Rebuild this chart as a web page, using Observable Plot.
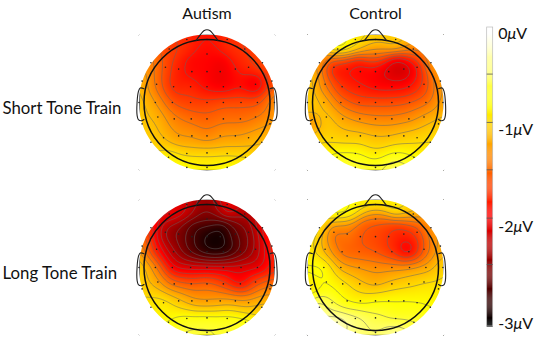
<!DOCTYPE html>
<html>
<head>
<meta charset="utf-8">
<script src="https://cdn.jsdelivr.net/npm/d3@7"></script>
<script src="https://cdn.jsdelivr.net/npm/@observablehq/plot@0.6"></script>
<style>
  html, body { margin: 0; padding: 0; background: #fff; }
  #wrap { position: relative; width: 536px; height: 339px; overflow: hidden; }
  #wrap svg { display: block; }
  #legend { position: absolute; left: 460px; top: 0; }
</style>
</head>
<body>
<div id="wrap"><div id="heads"></div><div id="legend"></div></div>
<script>
const groups = ["Autism", "Control"];
const trains = ["Short Tone Train", "Long Tone Train"];
const colorTicks = [0, -1, -2, -3];
const barTicks = [-0.42, -0.92, -1.41, -1.91, -2.39];

// electrode positions on the scalp (head radius = 1)
const electrodeX = [
  -0.32, 0, 0.32,
  -0.6, 0, 0.6,
  -0.89, -0.66, -0.45, -0.24, 0, 0.21, 0.45, 0.66, 0.88,
  -1.03, -0.8, -0.53, -0.26, 0, 0.26, 0.53, 0.77, 1.03,
  -1.08, -0.82, -0.55, -0.26, 0, 0.26, 0.54, 0.8, 1.07,
  -1.03, -0.78, -0.52, -0.25, 0, 0.26, 0.53, 0.77, 1.0,
  -0.89, -0.69, -0.45, -0.24, 0, 0.21, 0.45, 0.66, 0.87,
  -0.61, -0.32, 0, 0.32, 0.61,
  -0.32, 0, 0.32
];
const electrodeY = [
  1.0, 1.0, 1.0,
  0.85, 0.77, 0.85,
  0.63, 0.56, 0.53, 0.49, 0.49, 0.49, 0.53, 0.56, 0.63,
  0.34, 0.29, 0.25, 0.25, 0.25, 0.25, 0.25, 0.29, 0.34,
  0, 0, 0, 0, 0, 0, 0, 0, 0,
  -0.34, -0.23, -0.26, -0.26, -0.26, -0.26, -0.26, -0.23, -0.34,
  -0.63, -0.56, -0.53, -0.53, -0.53, -0.53, -0.53, -0.56, -0.63,
  -0.87, -0.81, -0.8, -0.81, -0.87,
  -1.03, -1.03, -1.03
];

// amplitude (microvolts) at each electrode
const autismShort = [
  -1.7, -1.8, -1.7,
  -1.6, -1.85, -1.65,
  -1.3, -1.55, -1.75, -1.85, -1.85, -1.95, -1.8, -1.7, -1.55,
  -1.1, -1.4, -1.7, -1.7, -1.85, -1.9, -1.8, -1.95, -1.55,
  -1.0, -1.2, -1.5, -1.6, -1.6, -1.55, -1.55, -1.55, -1.25,
  -1.0, -1.1, -1.3, -1.4, -1.45, -1.4, -1.4, -1.35, -1.2,
  -0.95, -1.05, -1.2, -1.2, -1.3, -1.2, -1.2, -1.15, -1.05,
  -0.8, -0.95, -0.95, -0.95, -0.9,
  -0.75, -0.8, -0.75
];
const controlShort = [
  -0.85, -1.0, -1.0,
  -0.8, -1.35, -1.3,
  -1.2, -1.75, -1.75, -1.85, -1.85, -2.0, -2.05, -1.8, -1.2,
  -1.0, -1.35, -1.65, -1.75, -1.85, -1.85, -1.8, -1.6, -1.2,
  -0.95, -1.1, -1.4, -1.55, -1.55, -1.55, -1.5, -1.4, -1.15,
  -1.2, -1.0, -1.15, -1.25, -1.3, -1.3, -1.25, -1.15, -1.0,
  -0.9, -0.95, -1.0, -1.0, -1.05, -1.05, -1.0, -0.95, -0.9,
  -0.7, -0.75, -0.85, -0.75, -0.75,
  -0.6, -0.65, -0.5
];
const autismLong = [
  -2.1, -2.35, -2.0,
  -1.95, -2.5, -2.2,
  -1.7, -2.3, -2.4, -2.65, -2.85, -2.9, -2.55, -2.4, -1.9,
  -1.3, -1.8, -2.2, -2.55, -2.8, -2.8, -2.5, -2.2, -1.75,
  -0.95, -1.3, -1.9, -2.0, -2.0, -2.0, -2.0, -2.0, -1.7,
  -0.95, -1.15, -1.4, -1.5, -1.45, -1.6, -1.85, -1.55, -1.3,
  -0.85, -0.85, -1.0, -1.15, -1.2, -1.15, -1.15, -1.15, -1.0,
  -0.75, -0.7, -0.7, -0.7, -0.7,
  -0.6, -0.6, -0.65
];
const controlLong = [
  -0.8, -0.85, -0.85,
  -0.75, -1.4, -1.1,
  -0.85, -1.4, -1.3, -1.5, -1.55, -1.65, -1.7, -1.6, -1.2,
  -0.85, -1.1, -1.4, -1.45, -1.5, -1.65, -1.9, -1.45, -1.15,
  -0.75, -0.75, -1.1, -1.2, -1.25, -1.25, -1.2, -1.15, -0.95,
  -0.85, -0.75, -0.85, -1.0, -1.1, -1.0, -0.95, -0.9, -0.85,
  -0.35, -0.6, -0.75, -0.8, -0.75, -0.75, -0.75, -0.75, -0.75,
  -0.2, -0.4, -0.55, -0.65, -0.6,
  -0.4, -0.45, -0.3
];

// head drawing (head radius = 1)
const noseShape = [[-0.17,0.99],[-0.11,1.07],[-0.05,1.14],[0,1.155],[0.05,1.14],[0.11,1.07],[0.17,0.99]];
const leftEar = [[-1.0,0.22],[-1.06,0.23],[-1.09,0.17],[-1.11,0.0],[-1.11,-0.2],[-1.09,-0.27],[-1.04,-0.29],[-1.0,-0.27]];
const rightEar = leftEar.map(([x, y]) => [-x, y]);

const panels = [
  {group: groups[0], train: trains[0], values: autismShort},
  {group: groups[1], train: trains[0], values: controlShort},
  {group: groups[0], train: trains[1], values: autismLong},
  {group: groups[1], train: trains[1], values: controlLong}
];
const samples = panels.flatMap(p => p.values.map((v, i) => ({
  group: p.group, train: p.train, x: electrodeX[i], y: electrodeY[i], v
})));
const electrodes = electrodeX.map((x, i) => ({x, y: electrodeY[i]}));

const font = "Lato, 'Open Sans', sans-serif";
const color = {
  type: "linear",
  domain: [-3, -1.875, -0.75, 0],
  range: ["#000000", "#ff0000", "#ffff00", "#ffffff"],
  clamp: true
};

// smooth scalp interpolation of the electrode readings (Barnes analysis)
function smoothScalp(index, width, height, X, Y, V) {
  const out = new Float64Array(width * height);
  const idx = Array.from(index);
  const s = 0.08 * width;
  const passes = [1 / (2 * s * s), 1 / (2 * s * s * 0.6)];
  const resid = idx.map(n => V[n]);
  const estimate = (x, y, k) => {
    let sum = 0, total = 0;
    idx.forEach((n, m) => {
      const dx = X[n] - x, dy = Y[n] - y;
      const w = Math.exp(-(dx * dx + dy * dy) * k) + 1e-9;
      sum += w * resid[m];
      total += w;
    });
    return sum / total;
  };
  for (const k of passes) {
    for (let j = 0; j < height; ++j) {
      for (let i = 0; i < width; ++i) {
        out[j * width + i] += estimate(i + 0.5, j + 0.5, k);
      }
    }
    const corr = idx.map(n => estimate(X[n], Y[n], k));
    corr.forEach((c, m) => { resid[m] -= c; });
  }
  return out;
}

const lim = 68 / 63;
const heads = Plot.plot({
  width: 536,
  height: 339,
  marginLeft: 138.5,
  marginRight: 93,
  marginTop: 34,
  marginBottom: 4,
  style: {fontFamily: font, background: "transparent", overflow: "visible"},
  x: {domain: [-lim, lim], axis: null},
  y: {domain: [-lim, lim], axis: null},
  fx: {domain: groups, paddingInner: 0.1929, paddingOuter: 0, round: false, axis: null, label: null},
  fy: {domain: trains, paddingInner: 0.1758, paddingOuter: 0, round: false, axis: null, label: null},
  color,
  marks: [
    Plot.raster(samples, {x: "x", y: "y", fill: "v", fx: "group", fy: "train", interpolate: smoothScalp, pixelSize: 1}),
    Plot.contour(samples, {x: "x", y: "y", value: "v", fx: "group", fy: "train", interpolate: smoothScalp, pixelSize: 1,
      thresholds: d3.range(-2.85, 0, 0.15), fill: "none", stroke: "#666", strokeWidth: 0.8, strokeOpacity: 0.65}),
    // white ring masks everything outside the coloured disc
    Plot.dot([{x: 0, y: 0}], {x: "x", y: "y", r: 82, fill: "none", stroke: "#fff", strokeWidth: 28}),
    Plot.dot(electrodes, {x: "x", y: "y", r: 0.8, fill: "#222", stroke: "none"}),
    Plot.dot([{x: 0, y: 0}], {x: "x", y: "y", r: 63, fill: "none", stroke: "#111", strokeWidth: 1.5}),
    Plot.line(noseShape, {x: d => d[0], y: d => d[1], stroke: "#222", strokeWidth: 1.2, curve: "catmull-rom"}),
    Plot.line(leftEar, {x: d => d[0], y: d => d[1], stroke: "#222", strokeWidth: 1.1, curve: "catmull-rom"}),
    Plot.line(rightEar, {x: d => d[0], y: d => d[1], stroke: "#222", strokeWidth: 1.1, curve: "catmull-rom"}),
    Plot.axisFx({anchor: "top", tickSize: 0, tickPadding: 16, fontSize: 16, label: null, fill: "#111"}),
    Plot.axisFy({anchor: "left", tickSize: 0, tickPadding: 136.5, textAnchor: "start", dy: 6, fontSize: 16.8, label: null, fill: "#111"})
  ]
});
document.getElementById("heads").append(heads);

// colour bar
const barLevels = d3.range(0.062, -3.031, -0.01);
const legend = Plot.plot({
  width: 76,
  height: 339,
  marginLeft: 26.7,
  marginRight: 43.3,
  marginTop: 33,
  marginBottom: 16,
  style: {fontFamily: font, background: "transparent", overflow: "visible"},
  x: {domain: [0, 1], axis: null},
  y: {domain: [-3, 0], axis: null},
  color,
  marks: [
    Plot.rect(barLevels, {x1: 0, x2: 1, y1: d => d, y2: d => d - 0.0105, fill: d => d}),
    Plot.rect([0], {x1: 0, x2: 1, y1: () => 0.062, y2: () => -3.031, fill: "none", stroke: "#bbb", strokeWidth: 0.7}),
    Plot.tickY(barTicks, {y: d => d, x1: 0, x2: 0.5, stroke: "#555", strokeWidth: 0.8}),
    Plot.axisY(colorTicks, {anchor: "right", tickSize: 0, tickPadding: 5, fontSize: 16, label: null, fill: "#111",
      tickFormat: d => (d === 0 ? "0" : "-" + Math.abs(d)) + "μV"})
  ]
});
document.getElementById("legend").append(legend);
legend.querySelectorAll("text").forEach(t => {
  if (t.textContent.includes("μ")) {
    t.innerHTML = t.textContent.replace("μ", '<tspan font-style="italic">μ</tspan>');
  }
});
</script>
</body>
</html>
